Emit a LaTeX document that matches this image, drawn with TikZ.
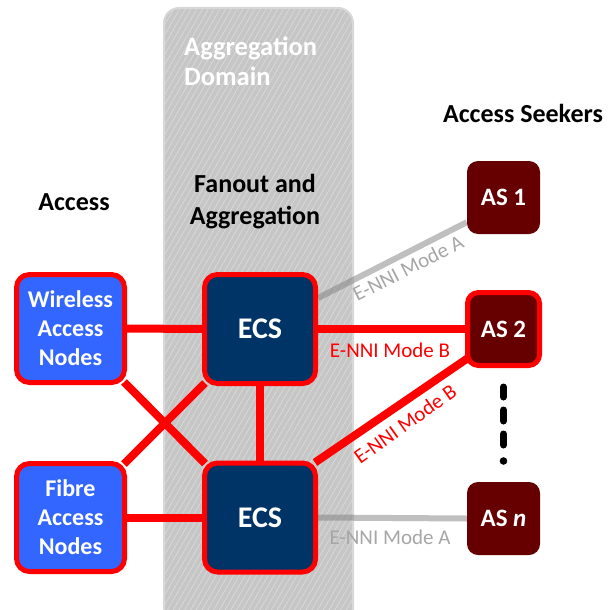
\documentclass[tikz,border=0pt]{standalone}
\usepackage{fontspec}
\setmainfont{Carlito}
\usetikzlibrary{patterns.meta,calc}
\pgfdeclarelayer{edgelayer}
\pgfdeclarelayer{bglayer}
\pgfsetlayers{bglayer,edgelayer,main}
\definecolor{accblue}{HTML}{3366FF}
\definecolor{ecsnavy}{HTML}{003366}
\definecolor{asred}{HTML}{660000}
\definecolor{domgray}{HTML}{C6C6C6}
\definecolor{domline}{HTML}{DADADA}
\definecolor{domedge}{HTML}{D8D8D8}
\definecolor{lblgray}{HTML}{A6A6A6}
\tikzset{
  accbox/.style={draw=red, line width=5pt, fill=accblue, rounded corners=13pt,
    minimum width=108pt, minimum height=108pt, inner sep=0pt, align=center,
    text=white, font=\bfseries\fontsize{24}{29}\selectfont},
  ecsbox/.style={draw=red, line width=5pt, fill=ecsnavy, rounded corners=13pt,
    minimum width=111pt, minimum height=109pt, inner sep=0pt,
    text=white, font=\bfseries\fontsize{30}{36}\selectfont},
  asbox/.style={fill=asred, rounded corners=11pt,
    minimum width=73pt, minimum height=73pt, inner sep=0pt,
    text=white, font=\bfseries\fontsize{25}{30}\selectfont},
  heading/.style={font=\bfseries\fontsize{26}{32}\selectfont, align=center, text=black},
  redlink/.style={red, line width=8pt},
  graylink/.style={draw=black!50, draw opacity=0.5, line width=6pt},
  redlbl/.style={text=red, font=\fontsize{21}{24}\selectfont, inner sep=2pt},
  graylbl/.style={text=lblgray, font=\fontsize{21}{24}\selectfont, inner sep=2pt},
}
\begin{document}
\begin{tikzpicture}[x=1pt,y=-1pt]
\useasboundingbox (0,0) rectangle (608,610);
\clip (0,0) rectangle (608,610);
% aggregation domain
\begin{pgfonlayer}{bglayer}
\fill[domgray, rounded corners=15pt] (164,8) rectangle (353,650);
\path[pattern={Lines[angle=60,distance=5pt,line width=0.7pt]}, pattern color=domline, rounded corners=15pt] (164,8) rectangle (353,650);
\draw[domedge, line width=2pt, rounded corners=15pt] (164,8) rectangle (353,650);
\end{pgfonlayer}
\node[anchor=west, align=left, inner sep=0pt, text=white, font=\bfseries\fontsize{26.5}{30}\selectfont] (dom) at (184,61) {Aggregation\\Domain};
% headings
\node[heading] (hseek) at (523,113) {Access Seekers};
\node[heading] (hacc) at (74,202) {Access};
\node[heading] (hfan) at (255,202) {Fanout and\\Aggregation};
% nodes
\node[accbox] (wan) at (70.5,328.5) {Wireless\\Access\\Nodes};
\node[accbox] (fan) at (70.5,517.5) {Fibre\\Access\\Nodes};
\node[ecsbox] (ecs1) at (260,329) {ECS};
\node[ecsbox] (ecs2) at (260,517.5) {ECS};
\node[asbox] (as1) at (503.5,197.5) {AS 1};
\node[asbox, draw=red, line width=5pt, minimum width=72pt, minimum height=73pt] (as2) at (503.5,329) {AS 2};
\node[asbox] (asn) at (503.5,518.5) {AS \textit{n}};
% dots
\draw[black, line width=7pt, line cap=round] (503.5,387) -- (503.5,397);
\draw[black, line width=7pt, line cap=round] (503.5,410) -- (503.5,421);
\draw[black, line width=7pt, line cap=round] (503.5,434) -- (503.5,445);
\fill[black] (503.5,461) circle (3.8pt);
% links
\begin{pgfonlayer}{edgelayer}
\draw[redlink] (wan) -- (ecs1);
\draw[redlink] (fan) -- (ecs2);
\draw[redlink] ([shift={(-3pt,3pt)}]wan.south east) -- ([shift={(3pt,-3pt)}]ecs2.north west);
\draw[redlink] ([shift={(-3pt,-3pt)}]fan.north east) -- ([shift={(3pt,3pt)}]ecs1.south west);
\draw[redlink] (ecs1) -- (ecs2);
\draw[redlink] (ecs1) -- (as2);
\draw[redlink] ([shift={(-3pt,-2pt)}]ecs2.north east) -- ([shift={(3pt,10pt)}]as2.south west);
\draw[graylink] ([yshift=31pt]ecs1.east) -- ([yshift=12pt]as1.south west);
\draw[graylink] (ecs2.east) -- (asn.west);
\end{pgfonlayer}
% labels
\node[redlbl] (lb1) at (390,350) {E-NNI Mode B};
\node[redlbl, rotate=35.5] (lb2) at (405,424) {E-NNI Mode B};
\node[graylbl, rotate=27] (la1) at (408,268) {E-NNI Mode A};
\node[graylbl] (la2) at (390,537) {E-NNI Mode A};
\end{tikzpicture}
\end{document}
